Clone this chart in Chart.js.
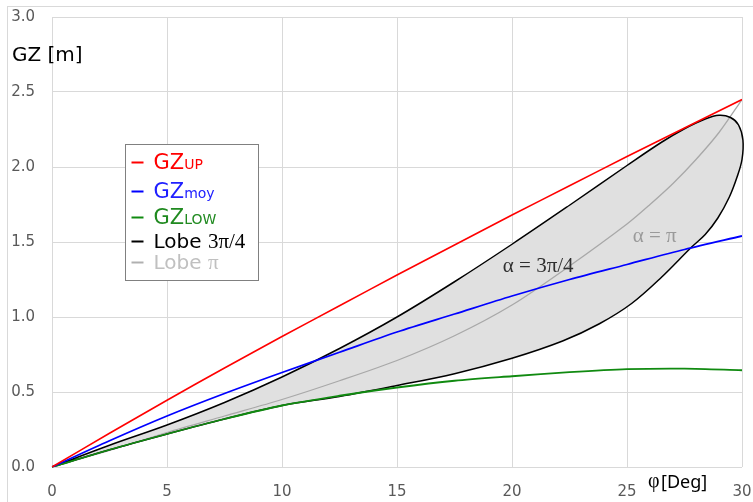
<!DOCTYPE html>
<html>
<head>
<meta charset="utf-8">
<script src="https://cdn.jsdelivr.net/npm/chart.js@4.4.0/dist/chart.umd.min.js"></script>
<style>
  html, body { margin: 0; padding: 0; background: #ffffff; }
  #wrap { width: 753px; height: 502px; position: relative; }
</style>
</head>
<body>
<div id="wrap"><canvas id="gz" width="753" height="502"></canvas></div>
<script>
// Heel angle grid [deg] shared by the three GZ curves
const phiGrid = [0, 2.5, 5, 7.5, 10, 12.5, 15, 17.5, 20, 22.5, 25, 27.5, 30];
const gzUp  = [0, 0.225, 0.445, 0.66, 0.87, 1.075, 1.28, 1.48, 1.68, 1.875, 2.07, 2.26, 2.45];
const gzMoy = [0, 0.175, 0.34, 0.49, 0.63, 0.765, 0.90, 1.02, 1.14, 1.25, 1.35, 1.45, 1.54];
const gzLow = [0, 0.115, 0.22, 0.32, 0.41, 0.475, 0.53, 0.575, 0.605, 0.632, 0.652, 0.656, 0.645];

// Degenerate lobe (alpha = pi)
const phiLobePi = [0, 2.5, 5, 7.5, 10, 12.5, 15, 17.5, 20, 22.5, 25, 26, 27, 28, 29, 30];
const gzLobePi  = [0, 0.11, 0.23, 0.34, 0.45, 0.575, 0.71, 0.875, 1.08, 1.34, 1.62, 1.75, 1.89, 2.05, 2.23, 2.45];

// Closed lobe (alpha = 3pi/4): upper branch outwards, lower branch back to the origin
const phiLobe34 = [0, 2.5, 5, 7.5, 10, 12.5, 15, 17.5, 20, 22.5, 25, 26.5, 27.5, 28.4, 29.0, 29.5, 29.85, 30.04,
                   30.0, 29.8, 29.45, 28.95, 28.4, 27.8, 26.5, 25.2, 23.8, 22.2, 20, 17.5, 15, 12.5, 10, 7.5, 5, 2.5, 0];
const gzLobe34  = [0, 0.145, 0.28, 0.43, 0.60, 0.79, 1.0, 1.235, 1.485, 1.745, 2.01, 2.165, 2.255, 2.32, 2.345, 2.33, 2.28, 2.18,
                   2.05, 1.94, 1.80, 1.66, 1.55, 1.465, 1.265, 1.09, 0.955, 0.84, 0.725, 0.622, 0.543, 0.47, 0.41, 0.32, 0.22, 0.115, 0];

// Axis ticks
const xTicks = [0, 5, 10, 15, 20, 25, 30];
const yTicks = [0.0, 0.5, 1.0, 1.5, 2.0, 2.5, 3.0];

const SANS = '"DejaVu Sans", Verdana, sans-serif';
const SERIF = '"Liberation Serif", "Times New Roman", serif';

const pts = (xs, ys) => xs.map((v, i) => ({ x: v, y: ys[i] }));

// Legend entries: [text, family, size] pieces drawn on one baseline
const legendRows = [
  { line: '#ff0000', text: '#ff0000', parts: [['GZ', SANS, 21], ['UP', SANS, 14]] },
  { line: '#0000ff', text: '#2020ff', parts: [['GZ', SANS, 21], ['moy', SANS, 14]] },
  { line: '#108a10', text: '#208a20', parts: [['GZ', SANS, 21], ['LOW', SANS, 14]] },
  { line: '#000000', text: '#000000', parts: [['Lobe ', SANS, 20], ['3π/4', SERIF, 21]] },
  { line: '#b0b0b0', text: '#c0c0c0', parts: [['Lobe ', SANS, 20], ['π', SERIF, 21]] }
];

const decor = {
  id: 'decor',
  beforeDraw(chart) {
    const ctx = chart.ctx;
    ctx.save();
    ctx.strokeStyle = '#d9d9d9';
    ctx.lineWidth = 1;
    ctx.strokeRect(7.5, 6.5, 800, 600);
    ctx.restore();
  },
  afterDraw(chart) {
    const { ctx, chartArea: a, scales: { x, y } } = chart;
    ctx.save();
    ctx.textBaseline = 'alphabetic';
    ctx.textAlign = 'left';

    // y-axis title
    ctx.fillStyle = '#000000';
    ctx.font = '20px ' + SANS;
    ctx.fillText('GZ [m]', a.left - 40, a.top + 44);

    // x-axis title
    ctx.font = '20px ' + SERIF;
    ctx.fillText('φ', a.right - 94, a.bottom + 20);
    ctx.font = '18px "Noto Sans", sans-serif';
    ctx.fillText('[Deg]', a.right - 81, a.bottom + 21);

    // curve annotations
    ctx.font = '21px ' + SERIF;
    ctx.fillStyle = '#303030';
    ctx.fillText('α = 3π/4', x.getPixelForValue(19.6), y.getPixelForValue(1.30));
    ctx.fillStyle = '#9a9a9a';
    ctx.fillText('α = π', x.getPixelForValue(25.25), y.getPixelForValue(1.50));

    // legend box
    const bx = a.left + 73.5, by = a.top + 127.5, bw = 133, bh = 136;
    ctx.fillStyle = '#ffffff';
    ctx.fillRect(bx, by, bw, bh);
    ctx.strokeStyle = '#808080';
    ctx.lineWidth = 1;
    ctx.strokeRect(bx, by, bw, bh);
    const baselines = [24, 53, 79, 103, 124];
    legendRows.forEach((row, i) => {
      const base = by + baselines[i];
      ctx.strokeStyle = row.line;
      ctx.lineWidth = 2;
      ctx.beginPath();
      ctx.moveTo(bx + 6, base - 6);
      ctx.lineTo(bx + 18, base - 6);
      ctx.stroke();
      let tx = bx + 28;
      ctx.fillStyle = row.text;
      row.parts.forEach(([t, fam, size]) => {
        ctx.font = size + 'px ' + fam;
        ctx.fillText(t, tx, base);
        tx += ctx.measureText(t).width;
      });
    });
    ctx.restore();
  }
};

new Chart(document.getElementById('gz'), {
  type: 'line',
  data: {
    datasets: [
      { label: 'GZUP', data: pts(phiGrid, gzUp), borderColor: '#ff0000', borderWidth: 1.6, tension: 0.3 },
      { label: 'GZmoy', data: pts(phiGrid, gzMoy), borderColor: '#0000ff', borderWidth: 1.8, tension: 0.3 },
      { label: 'GZLOW', data: pts(phiGrid, gzLow), borderColor: '#108a10', borderWidth: 1.8, tension: 0.3 },
      { label: 'Lobe 3π/4', data: pts(phiLobe34, gzLobe34), borderColor: '#000000', borderWidth: 1.5,
        backgroundColor: '#e0e0e0', fill: 'shape', tension: 0.35, capBezierPoints: false, clip: 6 },
      { label: 'Lobe π', data: pts(phiLobePi, gzLobePi), borderColor: '#a8a8a8', borderWidth: 1.3, tension: 0.3 }
    ]
  },
  options: {
    responsive: false,
    animation: false,
    events: [],
    elements: { point: { radius: 0 } },
    layout: { padding: { left: 7, top: 17, right: 11, bottom: 0 } },
    plugins: {
      legend: { display: false },
      tooltip: { enabled: false },
      filler: { drawTime: 'beforeDatasetsDraw' }
    },
    scales: {
      x: {
        type: 'linear', min: 0, max: 30,
        afterBuildTicks: s => { s.ticks = xTicks.map(v => ({ value: v })); },
        afterFit: s => { s.height = 35; s.paddingLeft = 0; s.paddingRight = 0; },
        grid: { color: '#d9d9d9', drawTicks: false },
        border: { display: false },
        ticks: { color: '#595959', font: { family: SANS, size: 15 }, padding: 16, maxRotation: 0 }
      },
      y: {
        type: 'linear', min: 0, max: 3,
        afterBuildTicks: s => { s.ticks = yTicks.map(v => ({ value: v })); },
        afterFit: s => { s.width = 45; s.paddingTop = 0; s.paddingBottom = 0; },
        grid: { color: '#d9d9d9', drawTicks: false },
        border: { display: false },
        ticks: { color: '#595959', font: { family: SANS, size: 15 }, padding: 17,
                 callback: v => Number(v).toFixed(1) }
      }
    }
  },
  plugins: [decor]
});
</script>
</body>
</html>
